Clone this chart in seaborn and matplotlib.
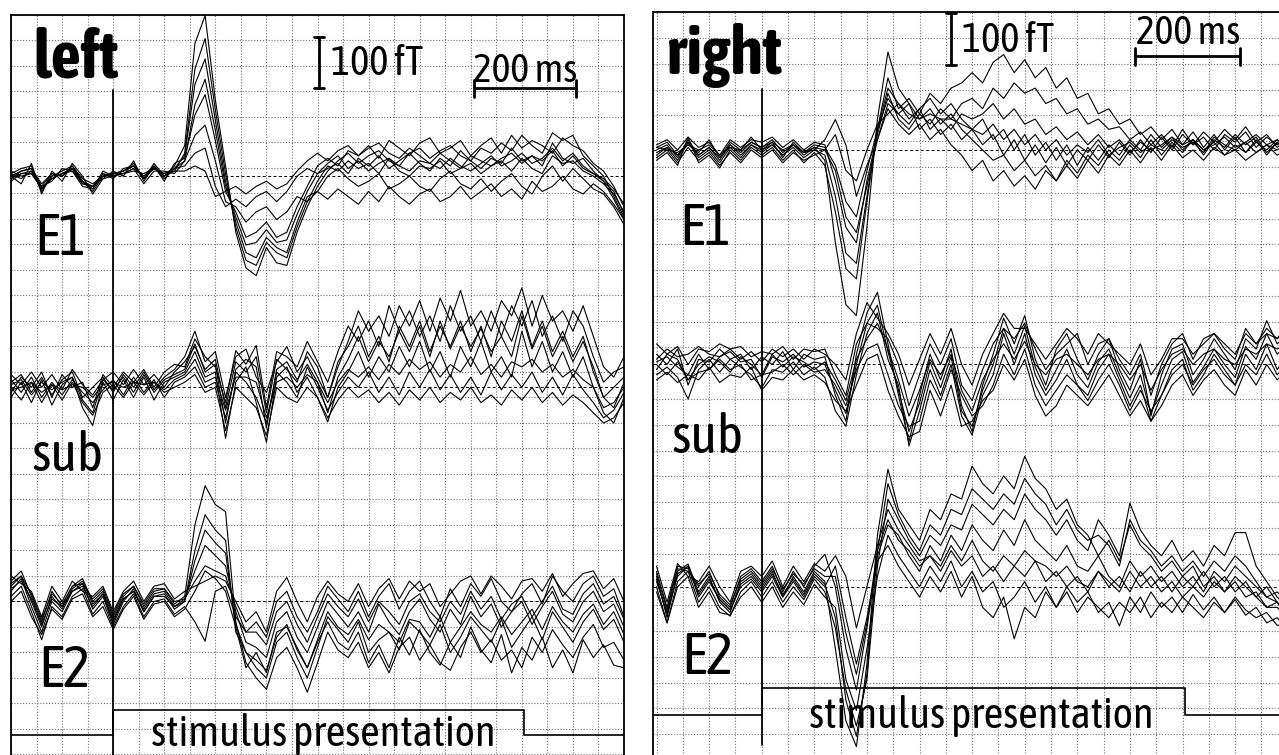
import os
import numpy as np
import pandas as pd
import matplotlib
matplotlib.use("Agg")
import matplotlib.pyplot as plt
import seaborn as sns
from matplotlib import font_manager as fm

# ---------------- data (fT relative to channel baseline, sampled every 20 ms) -------------
TIME_MS = list(range(-200, 1001, 20))

LEFT_E1 = {
    "A": [5, 15, 20, -30, 0, 10, 20, -10, -30, 0, 5, 10, 25, -5, 25, 0, 20,
          60, 260, 315, 150, 20, -110, -180, -195, -140, -170, -175, -110, -60, -20,
          10, 30, 45, 25, 40, 50, 30, 20, 45, 55, 35, 50, 60, 40, 30, 55, 45, 65, 50, 80,
          60, 45, 85, 70, 80, 40, 20, 0, -40, -80],
    "B": [-10, 5, 10, -25, -5, 5, 15, -15, -20, 5, -5, 15, 20, 0, 15, 5, 15,
          40, 180, 230, 110, -10, -90, -150, -160, -120, -140, -150, -90, -40, -30,
          0, 15, -5, -20, -10, 5, -25, -15, 0, -20, -30, -5, 10, -15, -25, -5, -30, -10, 5, -20,
          -35, 0, 20, -10, 15, -5, -25, -35, -60, -95],
    "C": [0, -15, 25, -35, 10, -10, 25, 0, -35, -5, 10, 0, 30, -10, 20, -10, 25,
          35, 120, 160, 70, -30, -70, -120, -110, -90, -120, -110, -60, -20, 20,
          35, 20, 50, 40, 60, 35, 70, 55, 40, 65, 75, 45, 55, 70, 40, 60, 75, 45, 80, 55,
          70, 60, 45, 75, 60, 50, 25, 10, -20, -60],
    "D": [10, 0, 5, -20, -10, 15, 10, -20, -25, 10, 0, 5, 15, -15, 10, 10, 5,
          30, 80, 100, 30, -50, -60, -90, -70, -60, -85, -70, -40, -50, -30,
          -45, -25, -40, -55, -30, -50, -20, -40, -55, -35, -25, -50, -40, -20, -45, -30, -15, -40, -25, -45,
          -10, -30, -20, 0, -25, -35, -15, -30, -55, -85],
    "E": [-5, 10, 15, -15, 5, 0, 20, -5, -15, 0, 5, 10, 20, -5, 20, -5, 15,
          20, 45, 55, -20, -60, -45, -60, -40, -30, -50, -30, 0, 15, 5,
          25, 40, 15, 30, 10, 25, 35, 10, 0, 20, 15, 30, 5, 15, 25, 5, 20, 30, 10, 35,
          15, 5, 40, 25, 30, 10, 0, -15, -35, -70],
    "F": [5, -5, 10, -25, 0, 5, 15, -10, -20, -5, 0, 5, 10, 5, 15, 0, 10,
          10, 20, 10, -40, -30, -20, -35, -20, -10, -25, -15, 10, 30, 45,
          30, 50, 60, 40, 55, 65, 45, 35, 55, 40, 25, 45, 30, 15, 40, 30, 20, 35, 45, 25,
          40, 30, 50, 20, 40, 15, 5, -5, -25, -55],
    "G": [0, 10, 15, -20, 5, 0, 15, -10, -25, 5, 0, 10, 20, -5, 15, 5, 10,
          45, 210, 270, 130, 5, -100, -165, -175, -130, -150, -160, -100, -50, -10,
          20, 10, 30, 15, 25, 5, 35, 20, 10, 30, 25, 15, 35, 20, 10, 25, 40, 20, 30, 45,
          25, 35, 55, 30, 45, 20, 5, -10, -45, -85],
    "H": [-5, 5, 5, -25, -5, 5, 10, -15, -20, 0, 5, 5, 15, 0, 20, 0, 15,
          30, 140, 190, 90, -20, -80, -135, -130, -105, -130, -125, -75, -30, 5,
          15, 25, 5, 35, 20, 40, 15, 30, 45, 25, 10, 35, 20, 50, 30, 15, 35, 25, 55, 30,
          40, 20, 65, 35, 25, 35, 10, -10, -30, -75],
}

LEFT_SUB = {
    "A": [10, 25, -10, 20, -15, 15, 30, -20, 0, 20, -10, 25, 0, 30, -5, 20, 35,
          60, 110, 50, 70, -20, 60, 75, 20, -10, 50, 80, 30, 60, 20,
          -20, 40, 90, 150, 110, 140, 100, 160, 120, 170, 110, 175, 130, 190, 120, 150, 110, 170, 140, 195,
          120, 180, 130, 150, 110, 160, 100, 40, 20, 60],
    "B": [-20, 10, -30, 15, -35, 5, 20, -40, -75, 10, -25, 15, -20, 20, -25, 10, 20,
          30, 70, 20, 30, -100, 10, 40, -30, -108, 20, 40, -10, 20, -20,
          -68, 0, 30, 70, 20, 60, 30, 80, 40, 90, 30, 70, 20, 80, 40, 90, 30, 60, 20, 110,
          40, 90, 30, 70, 20, 60, 0, -50, -70, -20],
    "C": [15, -10, 20, -20, 10, -15, 15, -10, -30, -5, 15, -15, 20, -10, 15, -20, 10,
          20, 40, 0, 10, -60, 30, 10, -20, -70, 30, 10, -20, 40, 0,
          -45, -10, 20, 0, 30, -10, 20, -15, 30, 0, 35, -5, 25, -10, 20, -15, 30, -5, 25, 0,
          30, -10, 20, -15, 25, -5, -30, -60, -45, -10],
    "D": [-10, 20, 0, 30, -20, 25, 0, 10, -40, 25, 0, 30, 10, 35, 0, 30, 45,
          40, 95, 60, 40, -30, 72, 45, 82, -40, 70, 60, 40, 90, 50,
          10, 70, 120, 90, 130, 80, 160, 110, 150, 100, 140, 90, 160, 110, 140, 90, 150, 100, 160, 120,
          170, 100, 140, 90, 150, 120, 60, 10, 30, 40],
    "E": [0, -25, 10, -30, 5, -25, 10, -30, -55, -10, 5, -20, 10, -15, 10, -10, 0,
          10, 25, -10, 0, -85, 0, -20, -40, -95, 0, -20, -30, 0, -20,
          -60, -25, 0, -20, -5, -30, -10, -35, -5, -25, 0, -30, -10, -25, 0, -30, -15, -35, -5, -25,
          0, -30, -10, -35, -15, -30, -50, -70, -60, -30],
    "F": [25, 5, 30, 0, 25, -5, 35, 5, -15, 15, 30, 5, 35, 5, 25, 0, 30,
          50, 80, 35, 55, -40, 50, 30, 60, -50, 55, 35, 10, 70, 40,
          -20, 50, 80, 120, 60, 100, 50, 120, 80, 130, 70, 120, 80, 130, 70, 120, 60, 130, 90, 150,
          80, 130, 70, 110, 60, 100, 30, -20, 0, 20],
    "G": [5, 15, -15, 10, -5, 10, 20, -25, -50, 15, -5, 20, -10, 25, -10, 15, 25,
          35, 85, 30, 45, -70, 35, 55, 40, -80, 35, 50, 15, 45, 10,
          -50, 20, 55, 100, 50, 90, 60, 110, 70, 120, 60, 130, 75, 120, 80, 115, 70, 100, 60, 140,
          75, 120, 60, 100, 50, 90, 40, -20, -40, 10],
    "H": [-5, 0, 10, -10, 5, -5, 5, 0, -20, 5, 10, 0, 10, 5, 10, -5, 15,
          25, 55, 10, 20, -45, 20, 20, 10, -60, 10, 20, 0, 25, 10,
          -30, 10, 35, 20, 40, 15, 45, 25, 55, 35, 50, 20, 45, 30, 60, 25, 45, 20, 50, 40,
          55, 30, 45, 20, 35, 15, 0, -40, -30, 0],
}

LEFT_E2 = {
    "A": [40, 60, 10, -40, 20, -10, 30, 45, 0, 20, -30, 10, 30, -10, 20, 25, -5,
          10, 150, 227, 190, 176, -40, -120, -150, -172, -110, -90, -130, -178, -120,
          -60, -95, -110, -80, -130, -100, -140, -90, -70, -115, -85, -120, -135, -90, -60, -100, -75, -115, -95, -130,
          -70, -100, -55, -85, -110, -70, -45, -90, -80, -115],
    "B": [20, 45, -10, -60, 0, -20, 20, 35, -15, 10, -45, 0, 25, -20, 10, 15, -15,
          0, 100, 170, 140, 120, -60, -100, -130, -150, -80, -60, -110, -150, -90,
          -30, -55, -80, -40, -100, -75, -60, -95, -40, -60, -85, -45, -100, -70, -30, -55, -80, -35, -90, -60,
          -30, -75, -20, -50, -80, -40, -15, -55, -35, -80],
    "C": [30, 50, 0, -50, 10, -15, 25, 40, -5, 15, -35, 5, 20, -15, 15, 20, -10,
          5, 60, 110, 90, 70, -20, -80, -90, -110, -40, -20, -70, -100, -50,
          0, -25, -50, -20, -60, -5, -40, -65, -20, 5, -35, -60, -15, -45, 10, -30, -5, -50, -20, 0,
          -45, -10, 20, -25, -40, 0, 20, -20, -5, -50],
    "D": [10, 30, -20, -75, -10, -30, 10, 25, -25, 0, -50, -10, 15, -30, 0, 5, -25,
          -10, -40, -78, 20, 30, -30, -60, -40, -70, 0, 20, -30, -60, -20,
          30, 5, -20, 20, -30, 10, 35, -15, 20, 40, 0, -30, 25, -10, 35, 10, 45, 0, -20, 15,
          35, -5, 50, 20, 0, 35, 50, 10, 25, -30],
    "E": [50, 35, 20, -30, 30, 0, 40, 20, 10, 30, -20, 20, 40, 0, 30, 35, 5,
          20, 30, 40, 50, 40, 0, -40, -20, -60, 20, 47, 0, -40, 10,
          40, 15, 0, 35, -10, 25, 45, 5, 40, 20, 35, -10, 15, 40, 50, 15, 50, 30, 5, 40,
          45, 20, 55, 10, 35, 55, 60, 25, 45, 0],
    "F": [0, 20, -30, -65, -15, -35, 5, 15, -30, -10, -55, -15, 10, -35, -5, 0, -30,
          -15, 20, 60, 45, 20, -50, -130, -100, -140, -60, -50, -90, -130, -80,
          -40, -80, -95, -60, -120, -85, -130, -70, -105, -55, -100, -125, -80, -110, -50, -95, -120, -65, -140, -90,
          -115, -70, -130, -95, -140, -75, -110, -85, -125, -130],
    "G": [25, 40, 5, -45, 5, -10, 20, 30, -10, 15, -40, 5, 20, -20, 10, 10, -10,
          0, 80, 140, 115, 95, -45, -100, -115, -135, -70, -45, -95, -130, -75,
          -20, -50, -65, -35, -75, -45, -60, -80, -35, -40, -70, -30, -80, -50, -20, -45, -60, -30, -65, -40,
          -15, -55, -10, -40, -60, -25, -5, -45, -20, -65],
    "H": [35, 50, 15, -35, 15, -5, 30, 35, 5, 25, -25, 15, 30, -5, 25, 25, 0,
          5, 40, 70, 60, 50, -10, -60, -60, -85, -20, 0, -45, -80, -30,
          15, -10, -30, 5, -40, 0, -20, -45, 0, 15, -20, -40, 0, -25, 20, -15, 10, -35, -5, 10,
          -30, 0, 30, -15, -25, 15, 35, -5, 10, -35],
}

RIGHT_E1 = {
    "A": [0, 10, -15, 20, -10, 5, -20, 10, -5, 15, 5, 20, -5, 10, -10, 5, -20,
          -180, -300, -321, -150, 60, 190, 120, 90, 60, 80, 50, 70, 40, 20,
          0, -20, -10, -40, -20, -50, -30, -60, -20, -45, -10, -30, 0, -20, 10, -15, 20, -10, 15, -5,
          20, 0, 15, -10, 10, -5, 15, 0, 20, 5],
    "B": [-20, -5, -30, 25, -25, -10, -35, 0, -20, 5, -10, 5, -20, 0, -25, -5, -30,
          -120, -230, -250, -100, 40, 140, 80, 100, 70, 110, 90, 120, 130, 150,
          130, 170, 185, 150, 175, 140, 160, 120, 140, 100, 110, 70, 80, 50, 60, 30, 45, 20, 40, 10,
          35, 5, 30, 0, 25, -5, 20, -10, 15, 0],
    "C": [10, 20, 0, 25, 5, 15, -10, 20, 5, 20, 15, 25, 5, 20, 0, 15, 10,
          -60, -150, -180, -60, 30, 110, 60, 40, 70, 50, 80, 60, 90, 100,
          80, 120, 100, 130, 110, 120, 90, 100, 70, 80, 50, 60, 40, 45, 20, 35, 10, 30, 5, 40,
          10, 25, 0, 30, 15, 35, 5, 25, 10, 30],
    "D": [-10, 5, -20, 15, -15, 0, -25, 5, -15, 10, -5, 10, -10, 5, -15, 0, 20,
          59, 10, -90, -30, 20, 80, 50, 30, 50, 20, 40, 10, -10, -40,
          -20, -60, -40, -70, -50, -76, -40, -60, -30, -55, -20, -45, -10, -30, 0, -25, 5, -20, 10, -15,
          0, -20, 5, -10, 0, -20, -5, 10, -10, 0],
    "E": [5, 15, -10, 10, -5, 20, -15, 15, 0, 25, 0, 15, -15, 15, -5, 10, 5,
          -30, -100, -130, -40, 40, 100, 70, 90, 40, 60, 30, 50, 20, 40,
          10, 30, -10, 20, -20, 10, -25, 5, -30, 0, -20, 10, -15, 15, -10, 20, -5, 25, 0, 30,
          10, 35, 15, 40, 20, 45, 15, 30, 5, 20],
    "F": [-15, 0, -25, 5, -20, -5, -30, -5, -25, 0, -15, 0, -25, -5, -20, -10, 0,
          30, -40, -60, 0, 50, 70, 90, 60, 80, 100, 70, 90, 60, 40,
          60, 20, 40, 0, 30, -10, 15, -20, 10, -30, 5, -20, 10, -10, 20, 0, 30, 5, 25, 0,
          20, -10, 20, 5, 30, 10, 25, -5, 15, -10],
    "G": [-5, 5, -10, 15, -10, 5, -15, 10, -10, 10, 0, 10, -10, 10, -5, 0, -10,
          -90, -200, -220, -90, 40, 120, 90, 70, 60, 70, 60, 60, 50, 40,
          30, 50, 20, 40, 10, 30, 0, 20, -10, 10, -5, 20, -10, 5, 15, -5, 10, 0, 20, 5,
          15, -5, 25, 10, 0, 15, -5, 10, 20, 5],
    "H": [5, 0, -5, 10, 0, 10, -10, 5, 0, 15, 5, 15, 0, 10, -5, 5, 0,
          -40, -130, -160, -70, 20, 90, 70, 50, 80, 40, 60, 40, 70, 60,
          70, 90, 60, 80, 50, 60, 30, 45, 20, 35, 10, 30, 5, 20, -5, 15, 0, 10, 25, 10,
          20, 0, 10, 25, 5, 15, 30, 10, 0, 15],
}

RIGHT_SUB = {
    "A": [20, 0, 30, -40, 10, 5, 30, 10, 20, -10, 15, 0, 25, -10, 20, 10, 15,
          -60, -110, 20, 100, 140, 40, -60, -150, -60, 20, -30, 30, -80, -130,
          -40, 20, 90, 40, 95, 10, -40, 30, 60, 10, -30, 20, 50, -10, -50, 10, -100, -20, 30, 40,
          -20, 10, 50, 20, -10, 50, 30, 85, 40, 60],
    "B": [-20, -5, -25, -67, -10, 10, -15, 10, -5, -20, -45, -10, -15, 5, -20, -5, -25,
          -90, -120, -20, 60, 100, 10, -40, -158, -90, -10, -60, 0, -100, -137,
          -60, -20, 60, 0, 60, -20, -60, -30, 10, -40, -60, -10, 20, -30, -80, -40, -110, -60, -10, 10,
          -50, -20, 20, -10, -40, 20, -10, 40, -10, 20],
    "C": [40, 20, 35, 0, 30, 25, 40, 30, 35, 15, 25, 20, 35, 10, 30, 25, 30,
          -20, -60, 40, 80, 70, 50, 0, -80, -20, 40, 0, 50, -40, -70,
          -10, 40, 70, 50, 80, 30, -10, 20, 40, 60, 0, 40, 50, 10, -20, 20, -60, 0, 40, 60,
          10, 50, 60, 30, 10, 70, 40, 70, 50, 80],
    "D": [0, -20, 5, -30, -15, -10, 10, -10, 0, -30, -20, -15, 0, -20, 0, -15, -10,
          -40, -80, -10, 30, 40, -20, -80, -120, -110, -30, -70, -10, -60, -100,
          -80, -40, 20, -20, 30, -40, -80, -50, -20, -40, -70, -30, 0, -40, -90, -50, -90, -60, -20, 0,
          -40, -10, 10, -20, -40, 0, -20, 20, -20, 0],
    "E": [10, 30, 15, 20, 35, 20, 15, 30, 10, 25, 5, 30, 15, 30, 10, 30, 20,
          0, -30, 60, 120, 90, 60, 20, -40, 10, 60, 20, 70, 0, -40,
          20, 60, 99, 70, 70, 40, 10, 40, 70, 50, 20, 60, 40, 20, 0, 40, -20, 10, 50, 50,
          20, 40, 60, 40, 20, 60, 40, 60, 50, 70],
    "F": [-30, -15, -35, -20, -30, -5, -35, -20, -25, -5, -50, -25, -30, -10, -30, -20, -35,
          -70, -90, -40, 10, 20, -50, -100, -140, -130, -50, -100, -40, -120, -110,
          -70, -50, 0, -30, 10, -60, -100, -80, -40, -60, -80, -50, -20, -60, -100, -70, -110, -80, -40, -20,
          -60, -30, -10, -40, -60, -10, -40, 0, -30, -10],
    "G": [5, 15, -5, -20, 20, -10, 15, 25, 5, 10, -25, 15, 5, 20, -5, 5, 0,
          -50, -95, 0, 80, 115, 25, -50, -130, -75, 5, -45, 15, -90, -120,
          -50, 0, 70, 20, 75, -5, -50, -10, 30, -20, -45, 5, 30, -20, -65, -20, -95, -40, 10, 25,
          -35, -5, 30, 0, -25, 35, 10, 60, 20, 40],
    "H": [-10, 20, 10, -30, 0, 15, 5, -15, 15, 0, -20, 20, -5, 15, 5, -10, 5,
          -30, -70, 10, 50, 80, 30, -30, -100, -50, 10, -20, 20, -50, -90,
          -30, 10, 40, 10, 45, 0, -20, 10, 20, 0, -20, 10, 20, 0, -30, 0, -50, -10, 20, 30,
          0, 20, 30, 10, 0, 30, 20, 40, 30, 40],
}

RIGHT_E2 = {
    "A": [20, -60, 30, 44, -10, 20, -30, -50, 10, 25, 0, 30, -20, 20, -10, 30, 10,
          -120, -260, -310, -150, 100, 228, 150, 120, 90, 150, 130, 180, 170, 234,
          200, 180, 215, 190, 253, 210, 190, 150, 170, 120, 100, 60, 90, 50, 120, 80, 60, 30, 50, 20,
          40, 0, 20, -10, 10, -20, -10, -40, -30, -60],
    "B": [0, -70, 10, 30, -30, 0, -40, -57, -10, 10, -20, 10, -30, 0, -25, 15, -10,
          -80, -200, -270, -180, 40, 170, 130, 90, 60, 100, 80, 120, 110, 160,
          140, 120, 150, 130, 180, 150, 130, 100, 130, 90, 70, 130, 100, 60, 162, 110, 80, 60, 90, 50,
          70, 40, 80, 60, 105, 105, 40, 10, -20, -40],
    "C": [30, -40, 40, 35, 0, 30, -20, -40, 20, 35, 10, 40, -10, 30, 0, 40, 63,
          0, -120, -200, -80, 60, 120, 100, 60, 30, 80, 50, 100, 70, 120,
          90, 70, 110, 80, 130, 90, 70, 50, 80, 40, 30, 60, 20, 0, 50, 20, 40, 10, 30, 0,
          20, -10, 30, 10, 40, 20, 0, -20, -10, -30],
    "D": [10, -50, 20, 40, -20, 10, -25, -45, 0, 15, -10, 20, -20, 10, -20, 20, 0,
          40, -60, -150, -60, 50, 80, 40, 10, -20, 20, -10, 30, -20, 20,
          -40, -60, -20, -101, -40, -60, -10, -40, 0, -30, -10, -50, -30, -76, -20, -50, -10, -40, -20, -50,
          -15, -45, -20, -50, -25, -55, -40, -70, -60, -85],
    "E": [40, -30, 45, 20, 10, 40, 0, -30, 30, 40, 20, 50, 0, 40, 10, 45, 30,
          60, 20, -80, 0, 80, 150, 110, 80, 50, 60, 30, 70, 40, 60,
          20, 40, 10, 40, 20, 50, 10, 30, 0, 20, -10, 30, 0, 20, -10, 30, 0, 20, -10, 20,
          0, 30, 0, 20, -10, 10, -20, 0, -30, -50],
    "F": [-10, -70, 0, 20, -40, -10, -50, -55, -20, 0, -30, 0, -40, -10, -35, 5, -20,
          -40, -180, -240, -120, 20, 100, 60, 30, 0, 40, 10, 50, 0, 30,
          -10, 10, -40, -20, 10, -30, 0, -40, -10, -50, -20, -40, -60, -30, -50, -20, -60, -30, -50, -20,
          -40, -60, -30, -50, -20, -45, -60, -50, -75, -70],
    "G": [15, -55, 25, 40, -15, 15, -25, -45, 5, 20, -5, 25, -15, 15, -15, 25, 5,
          -60, -220, -290, -170, 70, 200, 140, 100, 70, 120, 100, 150, 140, 190,
          170, 150, 180, 160, 210, 180, 160, 120, 150, 110, 90, 100, 80, 40, 130, 90, 70, 40, 60, 30,
          50, 20, 50, 30, 60, 40, 10, -20, -30, -50],
    "H": [25, -45, 35, 30, 5, 25, -15, -35, 15, 30, 5, 35, -5, 25, 5, 35, 20,
          20, -90, -170, -70, 70, 130, 90, 70, 40, 60, 40, 80, 50, 90,
          50, 30, 60, 40, 70, 50, 40, 20, 40, 10, 0, 30, 10, -10, 30, 0, 20, -10, 10, -20,
          0, -20, 10, -10, 20, 0, -20, -40, -40, -60],
}

CHANNEL_LABELS = ["E1", "sub", "E2"]
PANEL_TITLES = ["left", "right"]
SCALE_FT = 100
SCALE_MS = 200
STIM_END_MS = 805
STIM_TEXT = "stimulus presentation"

# ---------------- layout (data units: ms horizontally, fT vertically) -------------
LAYOUT = {
    "left": dict(px=(11, 15, 624, 760), xlim=(-200, 1000), ylim=(-1460.8, 0),
                 base={"E1": -316, "sub": -730, "E2": -1150},
                 lab={"E1": (-154, -471), "sub": (-160, -894), "E2": (-147, -1318)},
                 title=(-156, -122), onset_top=-147,
                 box=(-1363, -1412), stim=(75, -1433),
                 ftbar=(403, -43), fttext=(426, -96),
                 msbar=(707, -144), mstext=(807, -131)),
    "right": dict(px=(653, 12.3, 1287.7, 760), xlim=(-206.7, 1000), ylim=(-1421.5, 0),
                  base={"E1": -267, "sub": -683, "E2": -1114},
                  lab={"E1": (-157, -452), "sub": (-172, -855), "E2": (-153, -1284)},
                  title=(-180, -119), onset_top=-148,
                  box=(-1311, -1362), stim=(90, -1387),
                  ftbar=(360, -2), fttext=(381, -55),
                  msbar=(710, -85.5), mstext=(810, -62)),
}

DATA = {"left": {"E1": LEFT_E1, "sub": LEFT_SUB, "E2": LEFT_E2},
        "right": {"E1": RIGHT_E1, "sub": RIGHT_SUB, "E2": RIGHT_E2}}

rows = []
for panel, chans in DATA.items():
    for ch, traces in chans.items():
        b = LAYOUT[panel]["base"][ch]
        for name, vals in traces.items():
            for t, v in zip(TIME_MS, vals):
                rows.append((panel, ch, f"{ch}-{name}", t, v + b))
df = pd.DataFrame(rows, columns=["panel", "channel", "uid", "t", "y"])

# ---------------- fonts -------------
_files = {}
for f in fm.fontManager.ttflist:
    _files.setdefault(os.path.basename(f.fname), f.fname)


def pick(cands, generic_words, family, weight):
    for c in cands:
        if c in _files:
            return fm.FontProperties(fname=_files[c])
    for b, path in sorted(_files.items()):
        lb = b.lower()
        if any(w in lb for w in generic_words) and "italic" not in lb and "oblique" not in lb \
                and "dejavu" not in lb and "mono" not in lb:
            return fm.FontProperties(fname=path)
    if "DejaVuSansCondensed.ttf" in _files and weight == "normal":
        return fm.FontProperties(fname=_files["DejaVuSansCondensed.ttf"])
    if "DejaVuSansCondensed-Bold.ttf" in _files and weight == "bold":
        return fm.FontProperties(fname=_files["DejaVuSansCondensed-Bold.ttf"])
    return fm.FontProperties(family=family, weight=weight)


COND = pick(["NotoSans-ExtraCondensedMedium.ttf", "NotoSans-ExtraCondensedSemiBold.ttf",
             "NotoSans-ExtraCondensed.ttf", "NotoSans-CondensedMedium.ttf",
             "NotoSans-Condensed.ttf", "LiberationSansNarrow-Regular.ttf"],
            ["condensedmedium", "narrow-regular", "condensed-regular", "condensed.ttf"],
            "DejaVu Sans", "normal")
BOLD = pick(["LiberationSansNarrow-Bold.ttf", "NotoSans-SemiCondensedBold.ttf",
             "NotoSans-CondensedBold.ttf"],
            ["condensedbold", "condensed-bold", "narrow-bold"], "DejaVu Sans", "bold")


def fp(base, size):
    p = base.copy()
    p.set_size(size)
    return p


# ---------------- figure -------------
sns.set_style("white")
W, H = 1279, 755
fig = plt.figure(figsize=(W / 100, H / 100), dpi=100)
fig.patch.set_facecolor("white")

to_fit = []  # (text, target width px, max size pt)

for panel in PANEL_TITLES:
    L = LAYOUT[panel]
    x0, y0, x1, y1 = L["px"]
    ax = fig.add_axes([x0 / W, 1 - y1 / H, (x1 - x0) / W, (y1 - y0) / H])
    sub = df[df["panel"] == panel]
    sns.lineplot(data=sub, x="t", y="y", units="uid", estimator=None, color="black",
                 linewidth=0.8, ax=ax, legend=False, zorder=3)
    ax.set_xlim(*L["xlim"])
    ax.set_ylim(*L["ylim"])
    ax.set_xlabel("")
    ax.set_ylabel("")
    ax.set_xticks(np.arange(-200, 1001, 50))
    ax.set_yticks(np.arange(-1450, 1, 50))
    ax.tick_params(length=0, labelbottom=False, labelleft=False)
    ax.grid(True, color="#707070", linestyle=(0, (1, 1.6)), linewidth=0.8)
    ax.set_axisbelow(True)
    for s in ax.spines.values():
        s.set_color("black")
        s.set_linewidth(1.3)

    xmin = L["xlim"][0]
    bottom = L["ylim"][0]
    for ch in CHANNEL_LABELS:
        ax.axhline(L["base"][ch], color="black", linestyle=(0, (3, 2.5)), linewidth=0.7, zorder=2)
    ax.plot([0, 0], [L["onset_top"], bottom], color="black", linewidth=1.3, zorder=4)
    top, low = L["box"]
    ax.plot([xmin, 0, 0, STIM_END_MS, STIM_END_MS, 1000], [low, low, top, top, low, low],
            color="black", linewidth=1.2, zorder=4)
    t = ax.text(L["stim"][0], L["stim"][1], STIM_TEXT, fontproperties=fp(COND, 36),
                ha="left", va="baseline", color="black", zorder=6)
    to_fit.append((t, 345, 36))

    fx, fy = L["ftbar"]
    ax.plot([fx, fx], [fy, fy - SCALE_FT], color="black", linewidth=2.0, zorder=5)
    ax.plot([fx - 10, fx + 10], [fy, fy], color="black", linewidth=2.0, zorder=5)
    ax.plot([fx - 10, fx + 10], [fy - SCALE_FT, fy - SCALE_FT], color="black", linewidth=2.0, zorder=5)
    t = ax.text(L["fttext"][0], L["fttext"][1], f"{SCALE_FT} fT", fontproperties=fp(COND, 34),
                ha="left", va="center", color="black", zorder=6)
    to_fit.append((t, 92, 34))
    mx, my = L["msbar"]
    ax.plot([mx, mx + SCALE_MS], [my, my], color="black", linewidth=2.0, zorder=5)
    ax.plot([mx, mx], [my - 16, my + 16], color="black", linewidth=2.0, zorder=5)
    ax.plot([mx + SCALE_MS, mx + SCALE_MS], [my - 16, my + 16], color="black", linewidth=2.0, zorder=5)
    t = ax.text(L["mstext"][0], L["mstext"][1], f"{SCALE_MS} ms", fontproperties=fp(COND, 34),
                ha="center", va="baseline", color="black", zorder=6)
    to_fit.append((t, 104, 34))

    t = ax.text(L["title"][0], L["title"][1], panel, fontproperties=fp(BOLD, 48),
                ha="left", va="baseline", color="black", zorder=6)
    to_fit.append((t, 90 if panel == "left" else 132, 48))
    for ch, tw in zip(CHANNEL_LABELS, [52, 72, 54]):
        lx, ly = L["lab"][ch]
        t = ax.text(lx, ly, ch, fontproperties=fp(COND, 42), ha="left", va="baseline",
                    color="black", zorder=6)
        to_fit.append((t, tw, 42))

# fit text sizes to the widths seen in the reference
fig.canvas.draw()
renderer = fig.canvas.get_renderer()
for t, tw, mx_size in to_fit:
    w = t.get_window_extent(renderer).width
    if w > 0:
        t.set_fontsize(min(mx_size, t.get_fontsize() * tw / w))

fig.savefig("out.png", dpi=100, facecolor="white")
